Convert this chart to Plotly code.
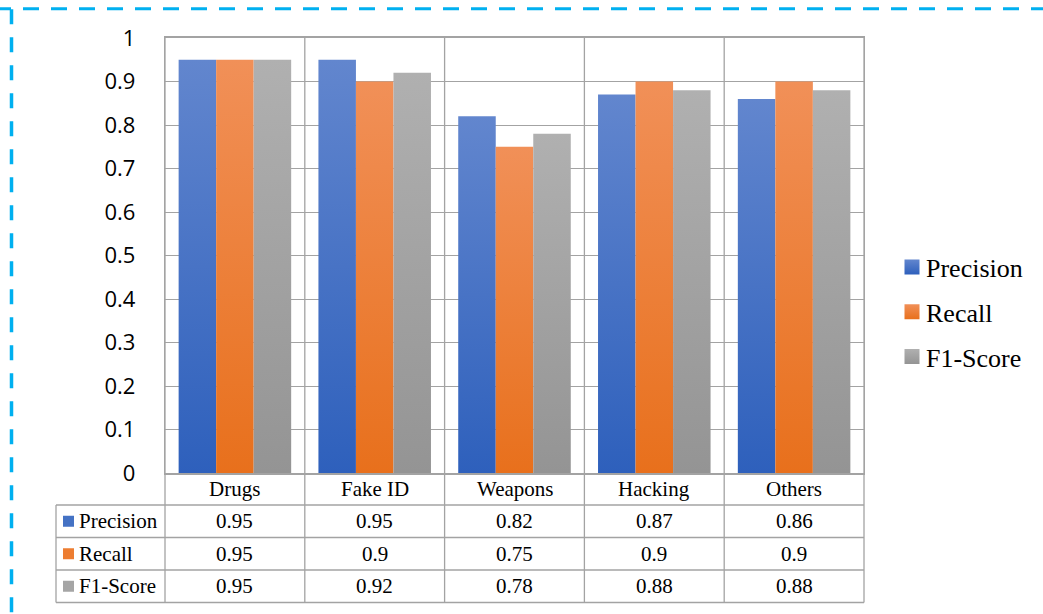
import json
import plotly.graph_objects as go

# ---- data ----
categories = ["Drugs", "Fake ID", "Weapons", "Hacking", "Others"]
precision = [0.95, 0.95, 0.82, 0.87, 0.86]
recall = [0.95, 0.90, 0.75, 0.90, 0.90]
f1_score = [0.95, 0.92, 0.78, 0.88, 0.88]
series_names = ["Precision", "Recall", "F1-Score"]
y_ticks = [0, 0.1, 0.2, 0.3, 0.4, 0.5, 0.6, 0.7, 0.8, 0.9, 1]

series_values = [precision, recall, f1_score]

# ---- styling ----
grad_top = ["#6286CE", "#F19058", "#B0B0B0"]
grad_bottom = ["#2E60BC", "#E8701C", "#949494"]
solid = ["#4472C4", "#ED7D31", "#A5A5A5"]
grid_col = "#A3A3A3"
border_col = "#00B0F0"
serif = "Times New Roman, Liberation Serif, Tinos, serif"

W, H = 1043, 614
L, R, T, B = 165, 179, 38, 141
PW, PH = W - L - R, H - T - B
BASE = H - B  # pixel row of the value axis zero


def px_x(px):
    return (px - L) / PW


def px_y(py):
    return (BASE - py) / PH


fig = go.Figure()
for name, vals, col in zip(series_names, series_values, solid):
    fig.add_trace(go.Bar(
        name=name, x=categories, y=vals,
        marker=dict(color=col, line=dict(width=0)),
        legendgroup=name,
    ))

shapes = []
line_style = dict(color=grid_col, width=1.3)
n = len(categories)
text_font = dict(family=serif, size=21, color="#000")

# data table grid beneath the plot
row_lines = [505, 537.5, 570, 602.5]
for ry in row_lines:
    shapes.append(dict(type="line", xref="paper", yref="paper",
                       x0=px_x(56), x1=1, y0=px_y(ry), y1=px_y(ry), line=line_style))
shapes.append(dict(type="line", xref="paper", yref="paper",
                   x0=px_x(56), x1=px_x(56), y0=px_y(row_lines[0]), y1=px_y(row_lines[-1]),
                   line=line_style))
for i in range(n + 1):
    shapes.append(dict(type="line", xref="paper", yref="paper", layer="below",
                       x0=i / n, x1=i / n, y0=px_y(row_lines[-1]), y1=1, line=line_style))

# dashed frame along the top and left
shapes.append(dict(type="line", xref="paper", yref="paper",
                   x0=px_x(-5), x1=px_x(W + 5), y0=px_y(8.7), y1=px_y(8.7),
                   line=dict(color=border_col, width=3, dash="16px,12px")))
shapes.append(dict(type="line", xref="paper", yref="paper",
                   x0=px_x(11.5), x1=px_x(11.5), y0=px_y(9.3), y1=px_y(H + 5),
                   line=dict(color=border_col, width=3.5, dash="15px,13px")))

annotations = []
# category header row of the table
header_cy = (BASE + row_lines[0]) / 2
for j, c in enumerate(categories):
    annotations.append(dict(text=c, xref="paper", yref="paper",
                            x=(j + 0.5) / n, y=px_y(header_cy), xanchor="center", yanchor="middle",
                            showarrow=False, font=text_font))

row_centres = [(row_lines[k] + row_lines[k + 1]) / 2 for k in range(3)]
for k, (name, vals, col) in enumerate(zip(series_names, series_values, solid)):
    cy = row_centres[k]
    # legend key square in the table
    shapes.append(dict(type="rect", xref="paper", yref="paper",
                       x0=px_x(63), x1=px_x(74), y0=px_y(cy - 5.5), y1=px_y(cy + 5.5),
                       fillcolor=col, line=dict(width=0)))
    annotations.append(dict(text=name, xref="paper", yref="paper",
                            x=px_x(77), y=px_y(cy), xanchor="left", yanchor="middle",
                            showarrow=False, font=text_font))
    for j, v in enumerate(vals):
        annotations.append(dict(text=f"{v:g}", xref="paper", yref="paper",
                                x=(j + 0.5) / n, y=px_y(cy), xanchor="center", yanchor="middle",
                                showarrow=False, font=text_font))

fig.update_layout(
    width=W, height=H,
    margin=dict(l=L, r=R, t=T, b=B, pad=0, autoexpand=False),
    paper_bgcolor="white", plot_bgcolor="white",
    barmode="group", bargap=0.195, bargroupgap=0,
    shapes=shapes, annotations=annotations,
    legend=dict(
        x=px_x(886), y=px_y(312), xanchor="left", yanchor="middle",
        font=dict(family=serif, size=26, color="#000"),
        tracegroupgap=8, bgcolor="rgba(0,0,0,0)", borderwidth=0,
    ),
    showlegend=True,
)
fig.update_xaxes(
    type="category", range=[-0.5, n - 0.5],
    showline=True, mirror=True, linecolor=grid_col, linewidth=1.5,
    showgrid=False, ticks="", zeroline=False, showticklabels=False,
)
fig.update_yaxes(
    range=[0, 1], tickvals=y_ticks, ticktext=[f"{t:g}" for t in y_ticks],
    showline=True, mirror=True, linecolor=grid_col, linewidth=1.3,
    showgrid=True, gridcolor=grid_col, gridwidth=1.3, zeroline=False,
    ticks="", ticklabelstandoff=24,
    tickfont=dict(family="Open Sans", size=22, color="#000"),
)

# vertical colour gradient on the bars and legend keys; legend keys a bit larger
post = """
var gd = document.getElementById('{plot_id}');
var TOP = %s, BOT = %s;
function applyGrad(){
  var svg = gd.querySelector('svg.main-svg');
  var ns = 'http://www.w3.org/2000/svg';
  var defs = svg.querySelector('defs');
  TOP.forEach(function(c, i){
    var id = 'bargrad' + i;
    if (!svg.querySelector('#' + id)) {
      var lg = document.createElementNS(ns, 'linearGradient');
      lg.setAttribute('id', id);
      lg.setAttribute('x1', '0'); lg.setAttribute('y1', '0');
      lg.setAttribute('x2', '0'); lg.setAttribute('y2', '1');
      [[0, c], [1, BOT[i]]].forEach(function(s){
        var st = document.createElementNS(ns, 'stop');
        st.setAttribute('offset', s[0]);
        st.setAttribute('stop-color', s[1]);
        lg.appendChild(st);
      });
      defs.appendChild(lg);
    }
  });
  gd.querySelectorAll('.barlayer .trace').forEach(function(tr, i){
    tr.querySelectorAll('path').forEach(function(p){ p.style.fill = 'url(#bargrad' + i + ')'; });
  });
  gd.querySelectorAll('.legend .traces').forEach(function(tr, i){
    tr.querySelectorAll('.legendpoints path').forEach(function(p){
      p.style.fill = 'url(#bargrad' + i + ')';
      if (p.getAttribute('data-base-tf') === null) {
        p.setAttribute('data-base-tf', p.getAttribute('transform') || '');
      }
      p.setAttribute('transform', p.getAttribute('data-base-tf') + ' translate(6,0) scale(1.25)');
    });
  });
}
applyGrad();
gd.on('plotly_afterplot', applyGrad);
""" % (json.dumps(grad_top), json.dumps(grad_bottom))

fig.write_html("out.html", post_script=post)
